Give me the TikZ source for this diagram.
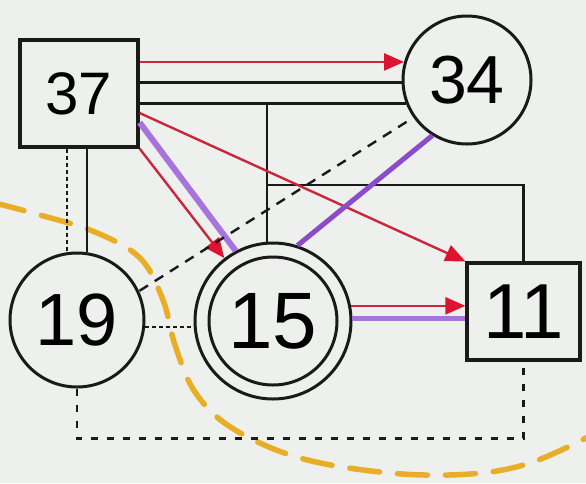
\documentclass[tikz,border=0pt]{standalone}
\usepackage{fontspec}
\setmainfont{Liberation Sans}
\usetikzlibrary{arrows.meta,calc}
\definecolor{paper}{HTML}{EEF0ED}
\definecolor{ink}{HTML}{1A1A1A}
\definecolor{redink}{HTML}{C8283A}
\definecolor{redtip}{HTML}{DC1430}
\definecolor{lilac}{HTML}{A874DC}
\definecolor{violet}{HTML}{8A4CCB}
\definecolor{ochre}{HTML}{E9AE28}
\tikzset{
  boxnode/.style={draw=ink, line width=3.2pt, rectangle, inner sep=0pt},
  ringnode/.style={draw=ink, line width=3pt, circle, inner sep=0pt},
  plain/.style={draw=ink, line width=2.8pt},
  redarr/.style={draw=redink, line width=2.4pt, -{Triangle[length=20pt,width=17pt,fill=redtip,color=redtip]}},
  lilacline/.style={draw=lilac, line width=6pt},
  violetline/.style={draw=violet, line width=5pt},
  dashline/.style={draw=ink, line width=2.4pt, dash pattern=on 10pt off 8pt},
  dotline/.style={draw=ink, line width=2.4pt, dash pattern=on 4pt off 3pt},
  lowdash/.style={draw=ink, line width=2.4pt, dash pattern=on 7pt off 9pt},
  arcdash/.style={draw=ochre, line width=5.5pt, dash pattern=on 30pt off 18pt, line cap=round},
}
\begin{document}
\begin{tikzpicture}[x=1pt,y=-1pt]
\fill[paper] (0,0) rectangle (586,483);
\useasboundingbox (0,0) rectangle (586,483);
% orange arc
\draw[arcdash] plot[smooth, tension=0.6] coordinates {(-5,203) (40,215) (95,232) (140,258) (163,300) (175,345) (195,392) (232,428) (300,458) (390,473) (470,474) (530,463) (590,436)};
% nodes
\node[boxnode, minimum width=118pt, minimum height=107pt, font=\fontsize{60}{60}\selectfont] (n37) at (79,93.5) {37};
\node[ringnode, minimum size=128pt, font=\fontsize{68}{68}\selectfont] (n34) at (467,80) {34};
\node[ringnode, minimum size=134pt, font=\fontsize{74}{74}\selectfont] (n19) at (77,320) {19};
\node[ringnode, minimum size=156pt] (n15) at (273,321) {};
\node[ringnode, minimum size=128pt, font=\fontsize{80}{80}\selectfont] (n15i) at (273,321) {15};
\node[boxnode, minimum width=113pt, minimum height=97pt, font=\fontsize{78}{78}\selectfont] (n11) at (523.5,311.5) {11};
% junctions
\coordinate (j1) at (267,103);
\coordinate (j2) at (267,185);
% 37 -> 34
\draw[redarr] (n37.east |- n34.164.6) -- (n34.164.6);
\draw[plain] (n37.east |- n34.182.7) -- (n34.182.7);
\draw[plain] (n37.east |- n34.201) -- (n34.201);
% branch to 15 and 11
\draw[plain] (j1) -- (j1 |- n15.north);
\draw[plain] (j2) -| (n11.north);
% 37 -> 11
\draw[redarr] ([yshift=-19.5pt]n37.east) -- (n11.north west);
% 37 -> 15
\draw[lilacline] ([yshift=-29pt]n37.east) -- (n15.118);
\draw[redarr] (n37.south east) -- (n15);
% 34 -> 15
\draw[violetline] (n34.238) -- (n15.72);
% 34 -> 19 dashed
\draw[dashline, shorten <=8pt] (n34.215) -- (n19.25);
% 15 -> 11
\draw[lilacline, line width=5pt] (n15.2) -- (n15.2 -| n11.west);
\draw[redarr] (n15.11.8) -- (n15.11.8 -| n11.west);
% 37 -> 19
\draw[plain] ([xshift=8pt]n37.south) -- ([xshift=8pt]n37.south |- n19.north);
\draw[dotline] ([xshift=-12pt]n37.south) -- ([xshift=-12pt]n37.south |- n19.north);
% 19 -> 15 dotted
\draw[dotline] (n19.354) -- (n19.354 -| n15.west);
% 19 -> 11 dashed
\draw[lowdash] (n19.south) -- ([yshift=-50pt]n19.south) -| (n11.south);
\end{tikzpicture}
\end{document}
